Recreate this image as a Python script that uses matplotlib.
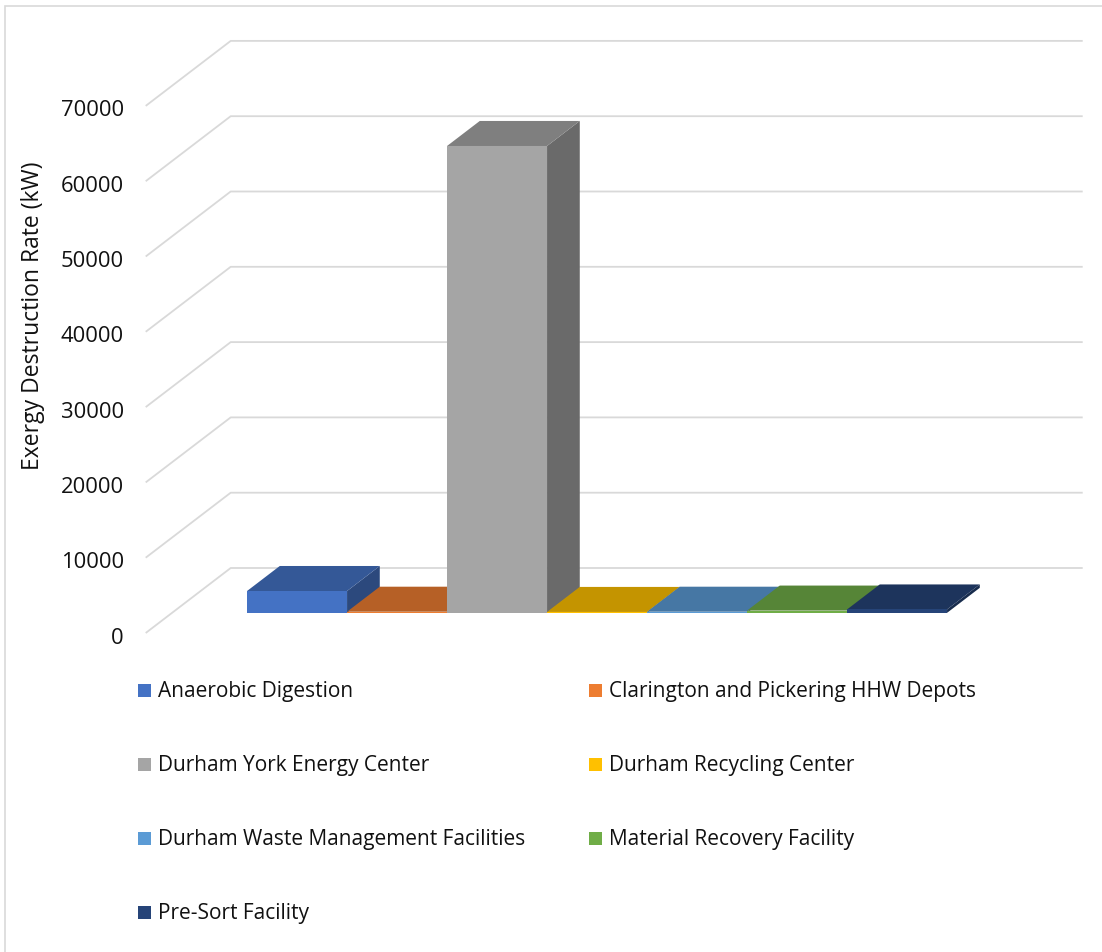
import matplotlib
matplotlib.use("Agg")
import matplotlib.pyplot as plt
from matplotlib.patches import Polygon, Rectangle
import numpy as np

plt.rcParams['font.family'] = ['Open Sans', 'DejaVu Sans']

# Exergy destruction rate per facility (kW)
facilities = [
    "Anaerobic Digestion",
    "Clarington and Pickering HHW Depots",
    "Durham York Energy Center",
    "Durham Recycling Center",
    "Durham Waste Management Facilities",
    "Material Recovery Facility",
    "Pre-Sort Facility",
]
exergy_kw = [2900, 150, 62000, 120, 150, 300, 450]
colors = ["#4472C4", "#ED7D31", "#A5A5A5", "#FFC000", "#5B9BD5", "#70AD47", "#264478"]
y_ticks = [0, 10000, 20000, 30000, 40000, 50000, 60000, 70000]
y_label = "Exergy Destruction Rate (kW)"

FS_TICK, FS_LABEL, FS_LEG = 15.8, 16.5, 15
TXT = "#111111"
W, H = 1102, 952
fig = plt.figure(figsize=(W / 100, H / 100), dpi=100)
ax = fig.add_axes([0, 0, 1, 1])
ax.axis("off")

# oblique projection: pixel layout of the plot box
X0_PX = 220.7          # pixel x of category 0 at depth 0
PX_PER_CAT = 100.0
Y0_PX = 633.0          # pixel y (from top) of value 0 at depth 0
PX_PER_KW = 75.3 / 10000
DEPTH_DX_PX, DEPTH_DY_PX = 85.0, 65.0

ax.set_xlim(-X0_PX / PX_PER_CAT, (W - X0_PX) / PX_PER_CAT)
ax.set_ylim((Y0_PX - H) / PX_PER_KW, Y0_PX / PX_PER_KW)

DX = DEPTH_DX_PX / PX_PER_CAT
DY = DEPTH_DY_PX / PX_PER_KW


def proj(x, v, z):
    return (x + DX * z, v + DY * z)


def px_to_fig(px, py):
    return px / W, 1 - py / H


# outer chart frame
fig.add_artist(Rectangle(px_to_fig(5, 960), (1120 - 5) / W, (960 - 6) / H,
                         transform=fig.transFigure, fill=False,
                         edgecolor="#D9D9D9", linewidth=1.2))

# back wall and side wall gridlines
floor_left, floor_right = -0.75, 7.77
grid_c = "#D9D9D9"
for t in y_ticks:
    a = proj(floor_left, t, 0)
    b = proj(floor_left, t, 1)
    c = proj(floor_right, t, 1)
    ax.plot([a[0], b[0], c[0]], [a[1], b[1], c[1]], color=grid_c, lw=1.3,
            solid_capstyle="butt", zorder=1)
    ax.text(floor_left - (147 - 125) / PX_PER_CAT, t - 5 / PX_PER_KW, f"{t}",
            ha="right", va="center", fontsize=FS_TICK, color=TXT)

fig.text(*px_to_fig(33, 316), y_label, rotation=90, ha="center", va="center",
         fontsize=FS_LABEL, color=TXT)


def shade(hex_color, f):
    rgb = np.array(matplotlib.colors.to_rgb(hex_color))
    return tuple(rgb * f)


# bars: front face, top face, right side face
z_front, z_back = 0.31, 0.695
for i, (val, col) in enumerate(zip(exergy_kw, colors)):
    x_l, x_r = i, i + 1
    front = [proj(x_l, 0, z_front), proj(x_r, 0, z_front),
             proj(x_r, val, z_front), proj(x_l, val, z_front)]
    top = [proj(x_l, val, z_front), proj(x_r, val, z_front),
           proj(x_r, val, z_back), proj(x_l, val, z_back)]
    side = [proj(x_r, 0, z_front), proj(x_r, 0, z_back),
            proj(x_r, val, z_back), proj(x_r, val, z_front)]
    zb = 2 + i * 0.1
    ax.add_patch(Polygon(side, closed=True, facecolor=shade(col, 0.64),
                         edgecolor="none", zorder=zb))
    ax.add_patch(Polygon(top, closed=True, facecolor=shade(col, 0.77),
                         edgecolor="none", zorder=zb + 0.01))
    ax.add_patch(Polygon(front, closed=True, facecolor=col,
                         edgecolor="none", zorder=zb + 0.02))

# legend in two columns
col_x = [138, 589]
row_y = [690, 764, 838, 912]
sq = 13
for k, (name, col) in enumerate(zip(facilities, colors)):
    cx = col_x[k % 2]
    ry = row_y[k // 2]
    fig.add_artist(Rectangle(px_to_fig(cx, ry + sq / 2), sq / W, sq / H,
                             transform=fig.transFigure, facecolor=col,
                             edgecolor="none"))
    fig.text(*px_to_fig(cx + 20, ry + 2), name, ha="left", va="center",
             fontsize=FS_LEG, color=TXT)

fig.savefig("out.png", dpi=100)
